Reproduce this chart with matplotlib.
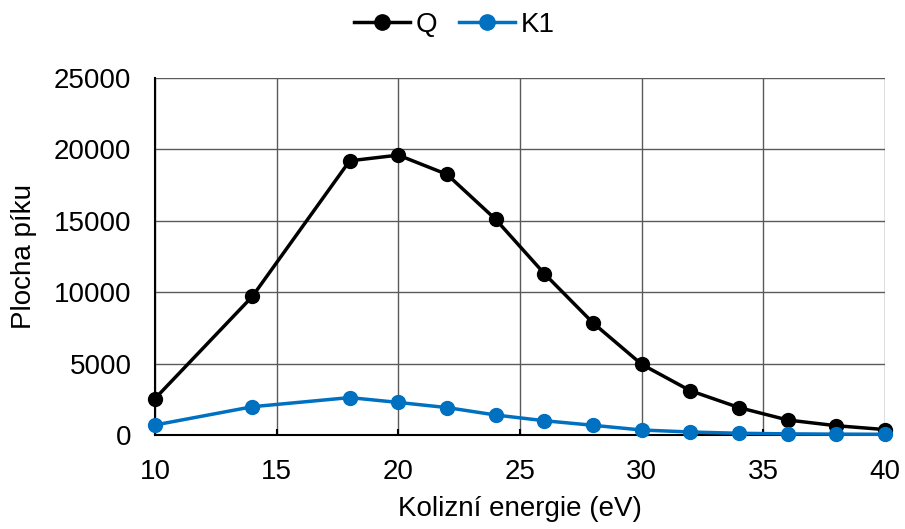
import matplotlib.pyplot as plt

plt.rcParams['font.family'] = ['Liberation Sans', 'DejaVu Sans']

energie = [10, 14, 18, 20, 22, 24, 26, 28, 30, 32, 34, 36, 38, 40]
q = [2550, 9700, 19200, 19600, 18250, 15100, 11300, 7850, 4950, 3100, 1920, 1050, 650, 380]
k1 = [700, 1980, 2620, 2280, 1920, 1400, 1000, 680, 350, 210, 120, 80, 60, 50]

fig = plt.figure(figsize=(9.05, 5.29), dpi=100)
ax = fig.add_axes([155 / 905, 1 - 435 / 529, 730 / 905, 357 / 529])

ax.plot(energie, q, color='black', marker='o', markersize=10, linewidth=2.5, label='Q', clip_on=False, zorder=3)
ax.plot(energie, k1, color='#0070c0', marker='o', markersize=10, linewidth=2.5, label='K1', clip_on=False, zorder=4)

ax.set_xlim(10, 40)
ax.set_ylim(0, 25000)
ax.set_xticks(range(10, 41, 5))
ax.set_yticks(range(0, 25001, 5000))
ax.grid(color='#5a5a5a', linewidth=1)
ax.set_axisbelow(True)
for s in ['top', 'right']:
    ax.spines[s].set_visible(False)
for s in ['left', 'bottom']:
    ax.spines[s].set_linewidth(1.5)
ax.tick_params(axis='x', labelsize=20, length=4, width=1.5, direction='in', pad=17)
ax.tick_params(axis='y', labelsize=20, length=0, pad=17)
ax.set_xlabel('Kolizní energie (eV)', fontsize=20, labelpad=8)
ax.set_ylabel('Plocha píku', fontsize=20, labelpad=12)

ax.legend(loc='upper center', bbox_to_anchor=(0.41, 1.255), ncol=2, frameon=False,
          fontsize=20, handlelength=2.0, columnspacing=0.8, handletextpad=0.2, markerscale=1.1)

fig.savefig('out.png', dpi=100)
